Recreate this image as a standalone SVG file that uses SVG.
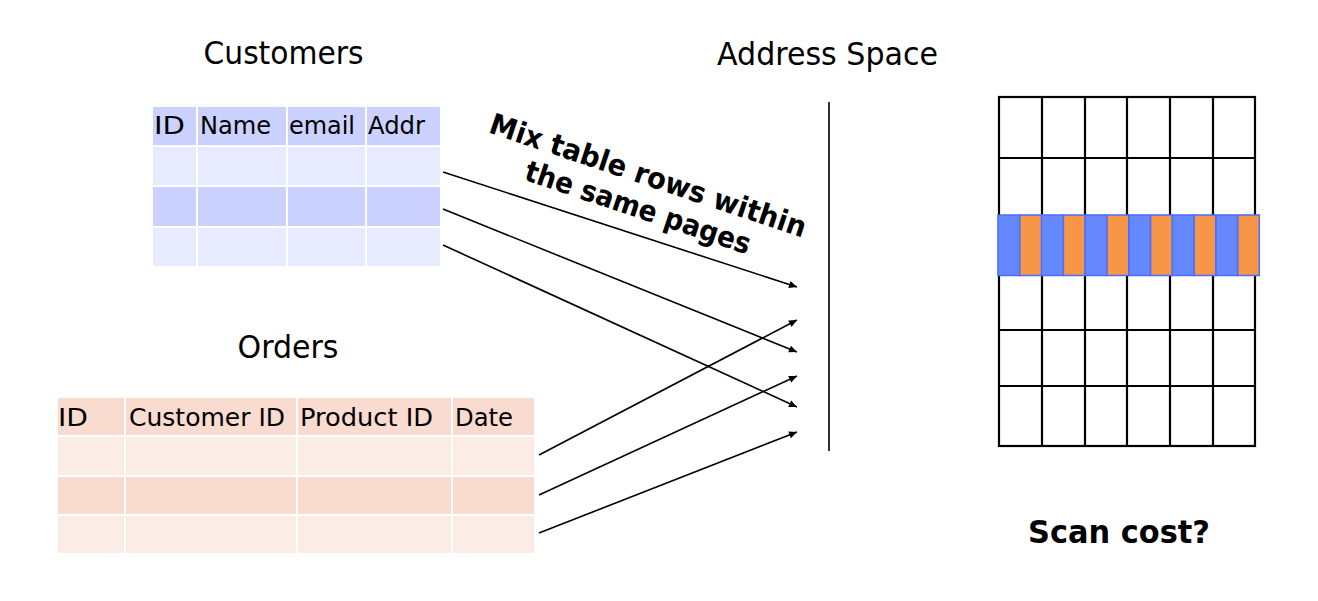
<svg xmlns="http://www.w3.org/2000/svg" width="1318" height="601" viewBox="0 0 1318 601">
<style>
.title{font-family:"DejaVu Sans","Liberation Sans",sans-serif;font-size:32px;fill:#000}
.hdr{font-family:"DejaVu Sans","Liberation Sans",sans-serif;font-size:24px;fill:#000}
.bold{font-family:"DejaVu Sans","Liberation Sans",sans-serif;font-weight:bold;fill:#000}
.cd{fill:#CCD2FF;stroke:#fff;stroke-width:2}
.cl{fill:#E8EAFF;stroke:#fff;stroke-width:2}
.od{fill:#FADBCF;stroke:#fff;stroke-width:2}
.ol{fill:#FCECE6;stroke:#fff;stroke-width:2}
.conn{stroke:#000;stroke-width:1.6;fill:none;marker-end:url(#ah)}
.grid{stroke:#000;stroke-width:2.2;fill:none}
.sb{fill:#6688FF;stroke:#4A6EFF;stroke-width:1.5}
.so{fill:#F79646;stroke:#4A6EFF;stroke-width:1.5}
</style>
<defs>
<marker id="ah" viewBox="0 0 10 10" refX="10" refY="5" markerWidth="9" markerHeight="8" markerUnits="userSpaceOnUse" orient="auto">
<path d="M0,0.5 L10,5 L0,9.5 z" fill="#000"/>
</marker>
</defs>
<rect width="1318" height="601" fill="#fff"/>

<g id="customers">
<text class="title" x="283.5" y="64" text-anchor="middle" textLength="160" lengthAdjust="spacingAndGlyphs">Customers</text>
<rect class="cd" x="152" y="106" width="45" height="40"/><rect class="cd" x="197" y="106" width="90" height="40"/><rect class="cd" x="287" y="106" width="79" height="40"/><rect class="cd" x="366" y="106" width="75" height="40"/>
<rect class="cl" x="152" y="146" width="45" height="40"/><rect class="cl" x="197" y="146" width="90" height="40"/><rect class="cl" x="287" y="146" width="79" height="40"/><rect class="cl" x="366" y="146" width="75" height="40"/>
<rect class="cd" x="152" y="186" width="45" height="41"/><rect class="cd" x="197" y="186" width="90" height="41"/><rect class="cd" x="287" y="186" width="79" height="41"/><rect class="cd" x="366" y="186" width="75" height="41"/>
<rect class="cl" x="152" y="227" width="45" height="40"/><rect class="cl" x="197" y="227" width="90" height="40"/><rect class="cl" x="287" y="227" width="79" height="40"/><rect class="cl" x="366" y="227" width="75" height="40"/>
<text class="hdr" x="154" y="134" textLength="31" lengthAdjust="spacingAndGlyphs">ID</text>
<text class="hdr" x="200" y="134" textLength="71" lengthAdjust="spacingAndGlyphs">Name</text>
<text class="hdr" x="289" y="134" textLength="66" lengthAdjust="spacingAndGlyphs">email</text>
<text class="hdr" x="368" y="134" textLength="57" lengthAdjust="spacingAndGlyphs">Addr</text>
</g>

<g id="orders">
<text class="title" x="288" y="358" text-anchor="middle" textLength="101" lengthAdjust="spacingAndGlyphs">Orders</text>
<rect class="od" x="57" y="397" width="68" height="39"/><rect class="od" x="125" y="397" width="172" height="39"/><rect class="od" x="297" y="397" width="155" height="39"/><rect class="od" x="452" y="397" width="83" height="39"/>
<rect class="ol" x="57" y="436" width="68" height="40"/><rect class="ol" x="125" y="436" width="172" height="40"/><rect class="ol" x="297" y="436" width="155" height="40"/><rect class="ol" x="452" y="436" width="83" height="40"/>
<rect class="od" x="57" y="476" width="68" height="39"/><rect class="od" x="125" y="476" width="172" height="39"/><rect class="od" x="297" y="476" width="155" height="39"/><rect class="od" x="452" y="476" width="83" height="39"/>
<rect class="ol" x="57" y="515" width="68" height="39"/><rect class="ol" x="125" y="515" width="172" height="39"/><rect class="ol" x="297" y="515" width="155" height="39"/><rect class="ol" x="452" y="515" width="83" height="39"/>
<text class="hdr" x="58" y="426" textLength="30" lengthAdjust="spacingAndGlyphs">ID</text>
<text class="hdr" x="129" y="426" textLength="156" lengthAdjust="spacingAndGlyphs">Customer ID</text>
<text class="hdr" x="300" y="426" textLength="133" lengthAdjust="spacingAndGlyphs">Product ID</text>
<text class="hdr" x="455" y="426" textLength="58" lengthAdjust="spacingAndGlyphs">Date</text>
</g>

<g id="address-space">
<text class="title" x="827.5" y="65" text-anchor="middle" textLength="221" lengthAdjust="spacingAndGlyphs">Address Space</text>
<line x1="829" y1="102" x2="829" y2="451" stroke="#333" stroke-width="2"/>
</g>

<g id="label-mix">
<text class="bold" font-size="29" x="645" y="185" text-anchor="middle" textLength="332" lengthAdjust="spacingAndGlyphs" transform="rotate(18.5 645 185)">Mix table rows within</text>
<text class="bold" font-size="29" x="635" y="217" text-anchor="middle" textLength="236" lengthAdjust="spacingAndGlyphs" transform="rotate(18.5 635 217)">the same pages</text>
</g>

<g id="connectors">
<line class="conn" x1="443" y1="172" x2="797" y2="287"/>
<line class="conn" x1="443" y1="209" x2="797" y2="352"/>
<line class="conn" x1="443" y1="245" x2="797" y2="407"/>
<line class="conn" x1="539" y1="455" x2="797" y2="320"/>
<line class="conn" x1="539" y1="495" x2="797" y2="376"/>
<line class="conn" x1="539" y1="533" x2="797" y2="432"/>
</g>

<g id="pages">
<rect class="grid" x="999" y="97" width="256" height="349"/>
<path class="grid" d="M1042,97V446M1085,97V446M1127,97V446M1170,97V446M1213,97V446M999,158H1255M999,216H1255M999,275H1255M999,330H1255M999,386H1255"/>
<g id="mixed-row">
<rect class="sb" x="998" y="215" width="21.8" height="60.5"/>
<rect class="so" x="1019.8" y="215" width="21.8" height="60.5"/>
<rect class="sb" x="1041.6" y="215" width="21.8" height="60.5"/>
<rect class="so" x="1063.4" y="215" width="21.8" height="60.5"/>
<rect class="sb" x="1085.2" y="215" width="21.8" height="60.5"/>
<rect class="so" x="1107" y="215" width="21.8" height="60.5"/>
<rect class="sb" x="1128.8" y="215" width="21.8" height="60.5"/>
<rect class="so" x="1150.6" y="215" width="21.8" height="60.5"/>
<rect class="sb" x="1172.4" y="215" width="21.8" height="60.5"/>
<rect class="so" x="1194.2" y="215" width="21.8" height="60.5"/>
<rect class="sb" x="1216" y="215" width="21.8" height="60.5"/>
<rect class="so" x="1237.8" y="215" width="21.5" height="60.5"/>
</g>
</g>

<g id="scan-cost">
<text class="bold" font-size="32" x="1119" y="543" text-anchor="middle" textLength="182" lengthAdjust="spacingAndGlyphs">Scan cost?</text>
</g>
</svg>
